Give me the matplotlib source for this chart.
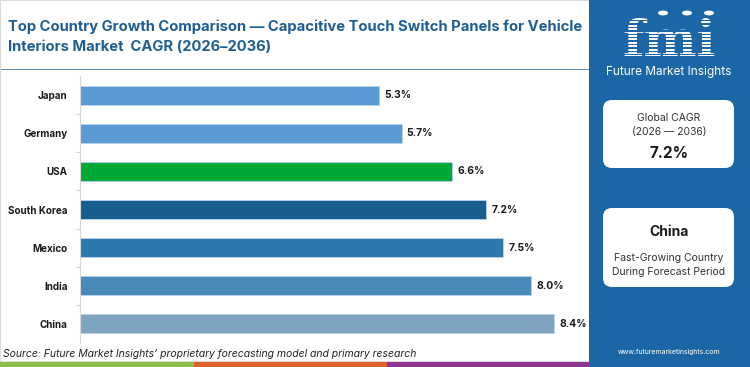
import matplotlib
matplotlib.use('Agg')

import matplotlib.pyplot as plt
from matplotlib.patches import Rectangle, FancyBboxPatch, Circle

# Chart data
countries = ["Japan", "Germany", "USA", "South Korea", "Mexico", "India", "China"]
cagr = [5.3, 5.7, 6.6, 7.2, 7.5, 8.0, 8.4]
bar_colors = ["#5b9bd5", "#5b9bd5", "#00a838", "#185f8f", "#2a78ad", "#478bb6", "#7ea5bf"]

title = "Top Country Growth Comparison \u2014 Capacitive Touch Switch Panels for Vehicle\nInteriors Market  CAGR (2026\u20132036)"
global_cagr = "7.2%"
top_country = "China"
source = "Source: Future Market Insights\u2019 proprietary forecasting model and primary research"

plt.rcParams['font.family'] = ['Inter', 'DejaVu Sans']

W, H = 750, 367
fig = plt.figure(figsize=(7.5, 3.67), dpi=100)
fig.patch.set_facecolor("white")

def fx(px):
    return px / W

def fy(py):
    return 1 - py / H

# Title
fig.text(fx(8), fy(27), title.split("\n")[0], fontsize=10.65, fontweight="bold",
         color="#1f5e92", va="center", ha="left")
fig.text(fx(8), fy(47), title.split("\n")[1], fontsize=10.65, fontweight="bold",
         color="#1f5e92", va="center", ha="left")
fig.add_artist(Rectangle((0, fy(70)), fx(589), 1.2 / H, transform=fig.transFigure,
                         facecolor="#5f89ab", edgecolor="none"))
fig.add_artist(Rectangle((0, fy(361)), fx(589), fy(0) - fy(361), transform=fig.transFigure,
                         facecolor="none", edgecolor="#dcdcdc", lw=0.8))

# Bars
ax = fig.add_axes([fx(80), fy(343), fx(500), 267 / H])
y = list(range(len(countries)))
ax.barh(y, cagr, height=0.5, color=bar_colors, edgecolor="#b9d3ea", linewidth=0.6)
for yi, v in zip(y, cagr):
    ax.text(v + 0.09, yi, f"{v:.1f}%", va="center", ha="left", fontsize=7.4,
            fontweight="bold", color="#1a1a1a")
ax.set_xlim(0, 8.86)
ax.set_ylim(len(countries) - 0.5, -0.5)
ax.set_xticks([])
ax.set_yticks(y)
ax.set_yticklabels(countries, fontsize=7.1, fontweight="bold", color="#1a1a1a")
ax.tick_params(axis="y", length=0, pad=9)
ax.set_yticks([i + 0.5 for i in y[:-1]], minor=True)
ax.tick_params(axis="y", which="minor", length=3, color="#d0d0d0", width=0.8)
for s in ["top", "right", "bottom"]:
    ax.spines[s].set_visible(False)
ax.spines["left"].set_color("#d8d8d8")
ax.spines["left"].set_linewidth(0.8)

# Source line
fig.text(fx(3), fy(354), source, fontsize=7.5, style="italic", color="#222222",
         va="center", ha="left")

# Bottom colour strip
for x0, x1, c in [(0, 194, "#8cc04b"), (194, 387, "#e2622c"), (387, 589, "#8e3590")]:
    fig.add_artist(Rectangle((fx(x0), 0), fx(x1 - x0), 5 / H, transform=fig.transFigure,
                             facecolor=c, edgecolor="none"))

# Right panel
panel = "#1b67a6"
fig.add_artist(Rectangle((fx(589), 0), fx(161), 1, transform=fig.transFigure,
                         facecolor=panel, edgecolor="none"))

# Logo
fig.text(fx(669), fy(42), "fmi", fontsize=36, fontweight="bold", family="DejaVu Serif",
         color="white", ha="center", va="center")
for k in range(12):
    yy = 20 + k * 3.4
    fig.add_artist(Rectangle((fx(610), fy(yy + 1.4)), fx(120), 1.4 / H,
                             transform=fig.transFigure, facecolor=panel, edgecolor="none",
                             zorder=4))
for cx in [663, 687, 709]:
    fig.add_artist(Circle((fx(cx), fy(13)), 5 / W, transform=fig.transFigure,
                          facecolor="white", edgecolor="none", zorder=5))
fig.text(fx(669), fy(72), "Future Market Insights", fontsize=8.5, color="white",
         ha="center", va="center")

# Info boxes
for (y0, y1) in [(100, 168), (208, 287)]:
    fig.add_artist(FancyBboxPatch((fx(603), fy(y1)), fx(131), (y1 - y0) / H,
                                  boxstyle="round,pad=0,rounding_size=0.012",
                                  transform=fig.transFigure, facecolor="white",
                                  edgecolor="none", mutation_aspect=W / H))
fig.text(fx(669), fy(118), "Global CAGR", fontsize=7.5, color="#333333", ha="center", va="center")
fig.text(fx(669), fy(132), "(2026 \u2014 2036)", fontsize=7.5, color="#333333", ha="center", va="center")
fig.text(fx(669), fy(154), global_cagr, fontsize=11, fontweight="bold", color="#1a1a1a",
         ha="center", va="center")
fig.text(fx(669), fy(232), top_country, fontsize=10, fontweight="bold", color="#1a1a1a",
         ha="center", va="center")
fig.text(fx(669), fy(258), "Fast-Growing Country", fontsize=7.5, color="#333333", ha="center", va="center")
fig.text(fx(669), fy(272), "During Forecast Period", fontsize=7.5, color="#333333", ha="center", va="center")

fig.text(fx(669), fy(352), "www.futuremarketinsights.com", fontsize=5, color="white",
         ha="center", va="center")

fig.savefig("out.png", dpi=100)
